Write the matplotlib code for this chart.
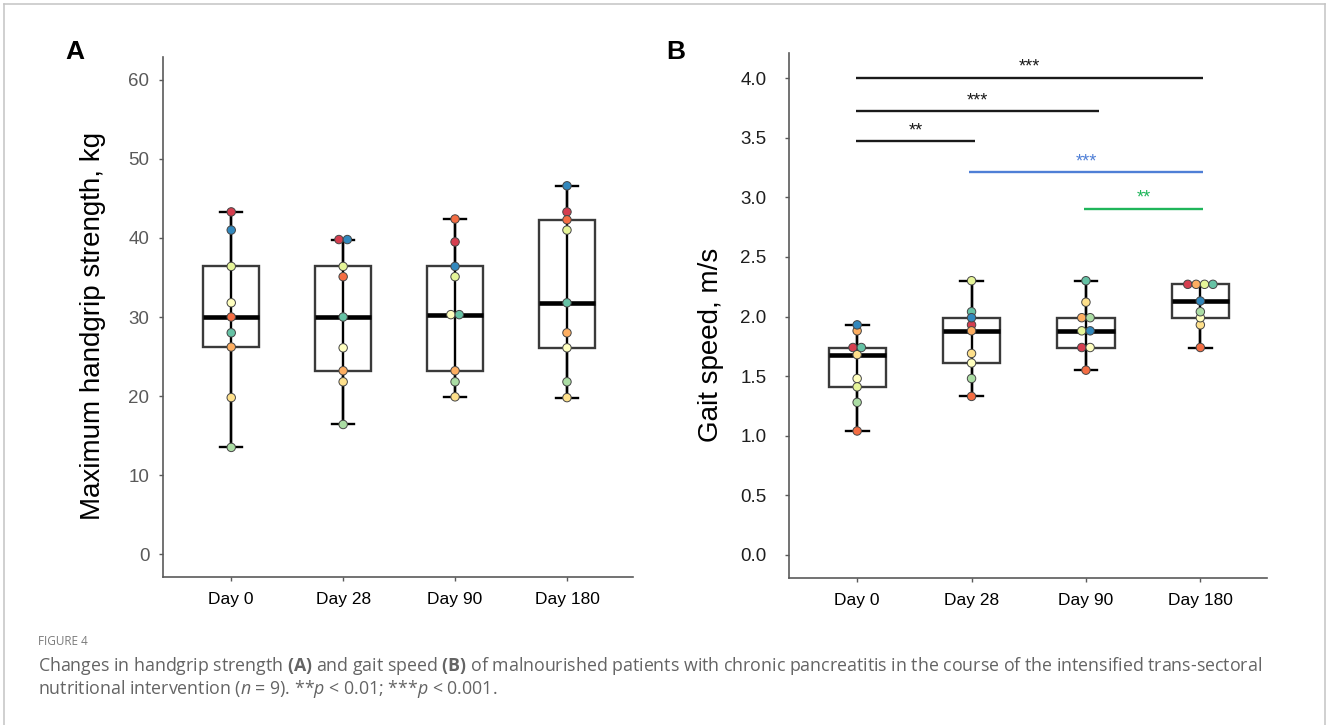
import numpy as np
import matplotlib
matplotlib.use("Agg")
import matplotlib.pyplot as plt
from matplotlib.lines import Line2D

# ---------------- data ----------------
days = ["Day 0", "Day 28", "Day 90", "Day 180"]
patients = ["P1", "P2", "P3", "P4", "P5", "P6", "P7", "P8", "P9"]
patient_colors = ["#d53e4f", "#f46d43", "#fdae61", "#fee08b", "#ffffbf",
                  "#e6f598", "#abdda4", "#66c2a5", "#3288bd"]

# maximum handgrip strength (kg), one value per patient
grip_day0 = [43.3, 30.0, 26.2, 19.8, 31.8, 36.4, 13.5, 28.0, 41.0]
grip_day28 = [39.8, 35.1, 23.2, 21.8, 26.1, 36.4, 16.4, 30.0, 39.8]
grip_day90 = [39.5, 42.4, 23.2, 19.9, 30.3, 35.1, 21.8, 30.3, 36.4]
grip_day180 = [43.3, 42.3, 28.0, 19.8, 26.1, 41.0, 21.8, 31.8, 46.6]

# gait speed (m/s), one value per patient
gait_day0 = [1.74, 1.04, 1.88, 1.68, 1.48, 1.41, 1.28, 1.74, 1.93]
gait_day28 = [1.93, 1.33, 1.88, 1.69, 1.61, 2.30, 1.48, 2.04, 1.99]
gait_day90 = [1.74, 1.55, 1.99, 2.12, 1.74, 1.88, 1.99, 2.30, 1.88]
gait_day180 = [2.27, 1.74, 2.27, 1.93, 1.99, 2.27, 2.04, 2.27, 2.13]

grip_ticks = [0, 10, 20, 30, 40, 50, 60]
gait_ticks = [0.0, 0.5, 1.0, 1.5, 2.0, 2.5, 3.0, 3.5, 4.0]

# significance comparisons (panel B)
sig_pairs = [(0, 3), (0, 2), (0, 1), (1, 3), (2, 3)]
sig_levels = [4.0, 3.72, 3.47, 3.21, 2.90]
sig_labels = ["***", "***", "**", "***", "**"]
sig_colors = ["#1a1a1a", "#1a1a1a", "#1a1a1a", "#4f7fd6", "#1fb55a"]

caption_head = "FIGURE 4"
caption_line1 = (r"Changes in handgrip strength $\mathbf{(A)}$ and gait speed $\mathbf{(B)}$ "
                 r"of malnourished patients with chronic pancreatitis in the course of the "
                 r"intensified trans-sectoral")
caption_line2 = r"nutritional intervention ($\mathit{n}$ = 9). **$\mathit{p}$ < 0.01; ***$\mathit{p}$ < 0.001."

# ---------------- style ----------------
W, H = 1328, 725
plt.rcParams['font.family'] = ['Liberation Sans', 'DejaVu Sans']
plt.rcParams['mathtext.fontset'] = 'custom'
plt.rcParams['mathtext.rm'] = 'Open Sans'
plt.rcParams['mathtext.it'] = 'Open Sans:italic'
plt.rcParams['mathtext.bf'] = 'Open Sans:bold'

fig = plt.figure(figsize=(W / 100, H / 100), dpi=100)
fig.patch.set_facecolor('white')


def fx(px):
    return px / W


def fy(py):
    return 1 - py / H


def make_axes(left, right, top, bottom):
    return fig.add_axes([fx(left), fy(bottom), fx(right) - fx(left), fy(top) - fy(bottom)])


axA = make_axes(163.3, 633, 57, 577)
axB = make_axes(788.5, 1266.7, 53, 578)

axA.set_xlim(-0.607, 3.59)
axA.set_ylim(-2.9, 62.9)
axB.set_xlim(-0.6, 3.58)
axB.set_ylim(-0.193, 4.21)

spine_col = '#5a5a5a'
marker_px = 8.4


def draw_panel(ax, groups, yticks, ylab_color, ypad, yfmt):
    pos = np.arange(len(groups))
    mins = [min(g) for g in groups]
    maxs = [max(g) for g in groups]
    ax.vlines(pos, mins, maxs, color='black', lw=1.7, zorder=1.5)
    ax.boxplot(groups, positions=pos, widths=0.5, whis=(0, 100), showfliers=False,
               capwidths=0.2, patch_artist=True,
               boxprops=dict(facecolor='none', edgecolor='#3a3a3a', linewidth=1.7),
               medianprops=dict(color='black', linewidth=3.3, solid_capstyle='butt'),
               whiskerprops=dict(color='black', linewidth=1.7),
               capprops=dict(color='black', linewidth=1.7),
               zorder=2)
    pxu = ax.transData.transform((1, 0))[0] - ax.transData.transform((0, 0))[0]
    d = marker_px / pxu
    for gi, vals in enumerate(groups):
        vals = np.asarray(vals, dtype=float)
        offs = np.zeros(len(vals))
        done = np.zeros(len(vals), bool)
        for i in range(len(vals)):
            if done[i]:
                continue
            idx = np.where(np.isclose(vals, vals[i]))[0]
            done[idx] = True
            n = len(idx)
            offs[idx] = (np.arange(n) - (n - 1) / 2) * d
        ax.scatter(gi + offs, vals, s=37, c=patient_colors, edgecolors='#454545',
                   linewidths=0.7, zorder=4)
    for s in ['top', 'right']:
        ax.spines[s].set_visible(False)
    for s in ['left', 'bottom']:
        ax.spines[s].set_color(spine_col)
        ax.spines[s].set_linewidth(1.2)
    ax.set_xticks(pos)
    ax.set_xticklabels(days)
    ax.set_yticks(yticks)
    ax.set_yticklabels([yfmt(t) for t in yticks])
    ax.tick_params(axis='x', length=3, width=1, color=spine_col, labelsize=12.5,
                   labelcolor='black', pad=8)
    ax.tick_params(axis='y', length=3, width=1, color=spine_col, labelsize=13.5,
                   labelcolor=ylab_color, pad=ypad)


draw_panel(axA, [grip_day0, grip_day28, grip_day90, grip_day180], grip_ticks,
           '#595959', 7, lambda t: f"{t:d}")
draw_panel(axB, [gait_day0, gait_day28, gait_day90, gait_day180], gait_ticks,
           '#1e1e1e', 13, lambda t: f"{t:.1f}")

# significance bars
sig_left_pad = [-0.01, -0.01, -0.01, -0.02, -0.02]
sig_right_pad = [0.025, 0.11, 0.03, 0.025, 0.025]
for (i, j), lev, lab, col, lp, rp in zip(sig_pairs, sig_levels, sig_labels, sig_colors,
                                         sig_left_pad, sig_right_pad):
    x0, x1 = i + lp, j + rp
    axB.plot([x0, x1], [lev, lev], color=col, lw=1.7, solid_capstyle='butt',
             clip_on=False, zorder=3)
    axB.text((x0 + x1) / 2, lev + 0.09, lab, color=col, fontsize=13,
             ha='center', va='center')

# axis labels
fig.text(fx(93), fy(326), "Maximum handgrip strength, kg", rotation=90,
         fontsize=20, ha='center', va='center', color='black')
fig.text(fx(711), fy(345), "Gait speed, m/s", rotation=90,
         fontsize=20, ha='center', va='center', color='black')

# panel letters
fig.text(fx(74.5), fy(51.7), "A", fontsize=19, fontweight='bold', ha='center', va='center')
fig.text(fx(676), fy(52), "B", fontsize=19, fontweight='bold', ha='center', va='center')

# figure border (open at bottom)
bcol = '#c4c4c4'
fig.add_artist(Line2D([fx(4.3), fx(1325)], [fy(4.3), fy(4.3)], color=bcol, lw=1.1))
fig.add_artist(Line2D([fx(4.3), fx(4.3)], [fy(4.3), 0], color=bcol, lw=1.1))
fig.add_artist(Line2D([fx(1325), fx(1325)], [fy(4.3), 0], color=bcol, lw=1.1))

# caption
cap_col = '#646464'
fig.text(fx(38), fy(645), caption_head, fontsize=8.5, family='Open Sans', color='#7a7a7a',
         ha='left', va='baseline')
renderer = fig.canvas.get_renderer()
t1 = fig.text(fx(38), fy(671), caption_line1, fontsize=11.5, family='Open Sans',
              color=cap_col, ha='left', va='baseline')
w1 = t1.get_window_extent(renderer).width
size = 11.5 * (1267 - 38) / w1
t1.set_fontsize(size)
fig.text(fx(38), fy(694), caption_line2, fontsize=size, family='Open Sans',
         color=cap_col, ha='left', va='baseline')

fig.savefig("out.png", dpi=100, facecolor='white')
